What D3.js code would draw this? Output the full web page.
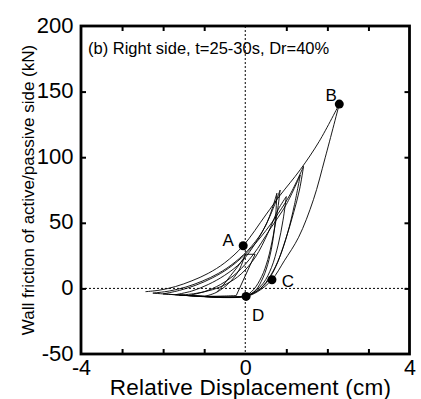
<!DOCTYPE html>
<html>
<head>
<meta charset="utf-8">
<script src="https://cdn.jsdelivr.net/npm/d3@7/dist/d3.min.js"></script>
<style>
  html, body { margin: 0; padding: 0; background: #fff; }
  svg { display: block; }
  text { font-family: "Liberation Sans", Arial, Helvetica, sans-serif; fill: #000; }
</style>
</head>
<body>
<svg id="chart" width="421" height="399"></svg>
<script>
// Axis settings
const xDomain = [-4, 4];
const yDomain = [-50, 200];
const xTickLabels = [-4, 0, 4];
const yTickLabels = [-50, 0, 50, 100, 150, 200];
const xMinorTicks = [-3, -2, -1, 1, 2, 3];
const yMinorTicks = [0, 50, 100, 150];

// Hysteresis branches: [relative displacement (cm), wall friction (kN)]
const rise1 = [[-2.43,-2.5],[-2.1,-1.4],[-1.7,1.4],[-1.3,5.8],[-0.9,11.5],[-0.5,19.5],[-0.05,32.5],[0.5,56],[0.85,71],[1.34,90.5],[1.8,112],[2.29,140.5]];
const fall1 = [[2.29,140.5],[1.95,100],[1.66,67.6],[1.3,39],[0.95,21],[0.65,6.6],[0.3,-2.5],[0.02,-6.1],[-0.5,-6.8],[-1.2,-5.8],[-2.0,-4.2]];
const rise2 = [[-2.0,-4.2],[-1.6,-1.5],[-1.2,2.5],[-0.8,8],[-0.4,15.5],[0.0,26],[0.4,40],[0.8,57],[1.1,72],[1.42,93]];
const fall2 = [[1.42,93],[1.32,75],[1.18,58],[0.98,37],[0.72,15],[0.45,2],[0.1,-5],[-0.4,-6.5],[-1.0,-6],[-1.7,-4.8]];
const rise3 = [[-1.7,-4.8],[-1.3,-2],[-0.9,3],[-0.5,10],[-0.1,20],[0.3,37],[0.6,55],[0.85,75]];
const fall3 = [[0.85,75],[0.78,58],[0.68,40],[0.55,22],[0.4,9],[0.2,-1],[0.0,-5.5],[-0.6,-6.8],[-1.4,-5.5]];
const rise4 = [[-1.4,-5.5],[-1.0,-2.5],[-0.6,3],[-0.2,12],[0.2,26],[0.6,45],[1.0,64],[1.34,86.5]];
const fall4 = [[1.34,86.5],[1.2,64],[1.03,42],[0.84,24],[0.62,10],[0.37,0],[0.05,-5.5],[-0.7,-6.5],[-2.25,-3.6]];
const rise5 = [[-2.25,-3.6],[-1.85,-2],[-1.45,1],[-1.05,5.5],[-0.65,11.5],[-0.25,20],[0.15,32],[0.5,48],[0.77,72.5]];
const fall5 = [[0.77,72.5],[0.74,55],[0.68,38],[0.58,22],[0.43,8],[0.25,-1.5],[0.0,-6],[-0.5,-7],[-1.0,-6.2]];
const rise6 = [[-1.0,-6.2],[-0.7,-3],[-0.4,4],[-0.15,14],[0.0,26]];
const jump6 = [[0.0,26],[0.24,26],[-0.22,-5.5]];
const tail6 = [[-0.22,-5.5],[-0.5,-5.8],[-0.9,-6],[-1.6,-5.2]];
const rise7 = [[-1.6,-5.2],[-1.2,-3.8],[-0.8,-1],[-0.45,3.5],[-0.1,11],[0.25,24],[0.55,42],[0.8,60],[1.0,70]];
const fall7 = [[1.0,70],[0.92,52],[0.8,33],[0.64,16],[0.44,4],[0.2,-3],[0.02,-6.1]];
const rise8 = [[-0.7,-3],[-0.55,2],[-0.35,10],[-0.15,18],[-0.02,24]];

const branches = [rise1, fall1, rise2, fall2, rise3, fall3, rise4, fall4, rise5, fall5, rise6, tail6, rise7, fall7, rise8];
const straightBranches = [jump6];

// Marked states
const pointLabels = ["A", "B", "C", "D"];
const pointX = [-0.05, 2.29, 0.65, 0.02];
const pointY = [32.5, 140.5, 6.6, -6.1];
const labelDx = [-15, -8, 16, 12];
const labelDy = [-5, -9, 2, 19];

const svg = d3.select("#chart");
const plotLeft = 81, plotRight = 409.5, plotTop = 26, plotBottom = 354;

const x = d3.scaleLinear().domain(xDomain).range([plotLeft, plotRight]);
const y = d3.scaleLinear().domain(yDomain).range([plotBottom, plotTop]);

// Zero reference lines
svg.append("line")
  .attr("x1", x(0)).attr("x2", x(0)).attr("y1", plotTop).attr("y2", plotBottom)
  .attr("stroke", "#000").attr("stroke-width", 1).attr("stroke-dasharray", "2,2");
svg.append("line")
  .attr("x1", plotLeft).attr("x2", plotRight).attr("y1", y(0)).attr("y2", y(0))
  .attr("stroke", "#000").attr("stroke-width", 1).attr("stroke-dasharray", "2,2");

// Curves
const smooth = d3.line().x(d => x(d[0])).y(d => y(d[1])).curve(d3.curveCatmullRom.alpha(0.5));
const straight = d3.line().x(d => x(d[0])).y(d => y(d[1]));

svg.append("g").selectAll("path").data(branches).join("path")
  .attr("d", smooth).attr("fill", "none").attr("stroke", "#000").attr("stroke-width", 0.9);
svg.append("g").selectAll("path").data(straightBranches).join("path")
  .attr("d", straight).attr("fill", "none").attr("stroke", "#000").attr("stroke-width", 0.9);

// Markers and letters
const pts = pointLabels.map((l, i) => ({ l, x: pointX[i], y: pointY[i], dx: labelDx[i], dy: labelDy[i] }));
svg.append("g").selectAll("circle").data(pts).join("circle")
  .attr("cx", d => x(d.x)).attr("cy", d => y(d.y)).attr("r", 4.5).attr("fill", "#000");
svg.append("g").selectAll("text").data(pts).join("text")
  .attr("x", d => x(d.x) + d.dx).attr("y", d => y(d.y) + d.dy)
  .attr("text-anchor", "middle").attr("dominant-baseline", "central")
  .style("font-size", "17px").text(d => d.l);

// Inward ticks on all four sides
const tickLen = 5;
function tickGroup(axis, transform) {
  const g = svg.append("g").attr("transform", transform).call(axis);
  g.select(".domain").remove();
  g.selectAll(".tick line").attr("stroke", "#000").attr("stroke-width", 2);
  g.selectAll(".tick text").remove();
}
tickGroup(d3.axisBottom(x).tickValues(xMinorTicks).tickSize(-tickLen), `translate(0,${plotBottom})`);
tickGroup(d3.axisTop(x).tickValues(xMinorTicks).tickSize(-tickLen), `translate(0,${plotTop})`);
tickGroup(d3.axisLeft(y).tickValues(yMinorTicks).tickSize(-tickLen), `translate(${plotLeft},0)`);
tickGroup(d3.axisRight(y).tickValues(yMinorTicks).tickSize(-tickLen), `translate(${plotRight},0)`);

// Tick labels (plain hyphen for negatives)
const plain = d => String(d);
const xl = svg.append("g").attr("transform", `translate(0,${plotBottom})`)
  .call(d3.axisBottom(x).tickValues(xTickLabels).tickSize(0).tickPadding(0).tickFormat(plain));
xl.select(".domain").remove();
xl.selectAll(".tick text").attr("y", 20.5).attr("dy", null)
  .style("font-size", "21.5px").style("font-family", "Liberation Sans, Arial, sans-serif").attr("fill", "#000");

const yl = svg.append("g").attr("transform", `translate(${plotLeft},0)`)
  .call(d3.axisLeft(y).tickValues(yTickLabels).tickSize(0).tickPadding(0).tickFormat(plain));
yl.select(".domain").remove();
yl.selectAll(".tick text").attr("x", -7.5).attr("dy", null).attr("y", 6)
  .style("font-size", "22px").style("font-family", "Liberation Sans, Arial, sans-serif").attr("fill", "#000");

// Frame
svg.append("rect")
  .attr("x", plotLeft).attr("y", plotTop).attr("width", plotRight - plotLeft).attr("height", plotBottom - plotTop)
  .attr("fill", "none").attr("stroke", "#000").attr("stroke-width", 2.8);

// Panel title
svg.append("text").attr("x", 88).attr("y", 54)
  .style("font-size", "16.5px").text("(b) Right side, t=25-30s, Dr=40%");

// Axis titles
svg.append("text").attr("x", 250.5).attr("y", 394.5)
  .attr("text-anchor", "middle").style("font-size", "22.5px").style("letter-spacing", "0.25px")
  .text("Relative Displacement (cm)");
svg.append("text").attr("transform", `translate(34,${(plotTop + plotBottom) / 2}) rotate(-90)`)
  .attr("text-anchor", "middle").style("font-size", "17px").text("Wall friction of active/passive side (kN)");
</script>
</body>
</html>
